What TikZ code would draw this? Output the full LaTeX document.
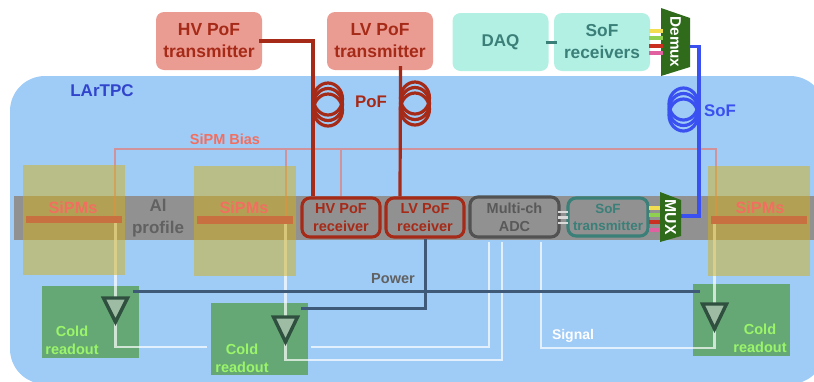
\documentclass[tikz,border=0pt]{standalone}
\usepackage{fontspec}
\setmainfont{Liberation Sans}
\usetikzlibrary{positioning}
\definecolor{tpcblue}{HTML}{9FCBF7}
\definecolor{bargrey}{HTML}{919191}
\definecolor{pofred}{HTML}{A62A18}
\definecolor{txpink}{HTML}{EB9C92}
\definecolor{sipmred}{HTML}{F26F60}
\definecolor{sipmyellow}{HTML}{D3B119}
\definecolor{sipmbar}{HTML}{C8703F}
\definecolor{coldgreen}{HTML}{66A875}
\definecolor{coldtext}{HTML}{9AF56A}
\definecolor{ampdark}{HTML}{2F4F3F}
\definecolor{powerline}{HTML}{3F5A78}
\definecolor{sofblue}{HTML}{3A50F0}
\definecolor{sofmint}{HTML}{B2F0E4}
\definecolor{softeal}{HTML}{3A7F78}
\definecolor{muxgreen}{HTML}{2F6B1B}
\definecolor{chyellow}{HTML}{F2DE50}
\definecolor{chgreen}{HTML}{90D050}
\definecolor{chred}{HTML}{C93020}
\definecolor{chpink}{HTML}{E060A0}
\newcommand{\fsz}[2]{\fontsize{#1}{#2}\selectfont\bfseries}
\tikzset{
  txbox/.style={fill=txpink,rounded corners=8pt,minimum width=106pt,minimum height=58pt,inner sep=0pt,
    text=pofred,align=center,font=\fsz{17.5}{22}},
  mintbox/.style={fill=sofmint,rounded corners=8pt,minimum width=96pt,minimum height=58pt,inner sep=0pt,
    text=softeal,align=center,font=\fsz{17.3}{22}},
  rxbox/.style={draw=pofred,line width=3.1pt,fill=bargrey,rounded corners=8pt,minimum width=78pt,minimum height=39pt,
    inner sep=0pt,text=pofred,align=center,font=\fsz{14.5}{18}},
  sipmbox/.style={fill=sipmyellow,fill opacity=.5,minimum width=102pt,minimum height=110pt,inner sep=0pt},
  sipmstrip/.style={fill=sipmbar,minimum width=96pt,minimum height=7.5pt,inner sep=0pt},
  sipmtext/.style={text=sipmred,font=\fsz{16.3}{18}},
  coldbox/.style={fill=coldgreen,minimum width=97pt,minimum height=72pt,inner sep=0pt},
  coldtextnode/.style={text=coldtext,align=center,font=\fsz{14.5}{18}},
  biasline/.style={draw=sipmred,draw opacity=.6,line width=2.8pt},
  sigline/.style={draw=white,draw opacity=.7,line width=2.6pt},
  powline/.style={draw=powerline,line width=3pt},
  pofline/.style={draw=pofred,line width=3.2pt},
  sofline/.style={draw=sofblue,line width=3.2pt},
  amp/.style={draw=ampdark,line width=3.4pt,fill=black!20,fill opacity=.55,line join=miter},
  lab/.style={font=\fsz{14.5}{18}},
}
\begin{document}
\begin{tikzpicture}[x=1pt,y=-1pt]
\useasboundingbox (0,0) rectangle (814,381);
\clip (0,0) rectangle (814,381);
\pgfmathsetmacro{\rx}{14.5}
\pgfmathsetmacro{\ry}{16}
\fill[tpcblue,rounded corners=35pt] (10,76) rectangle (825,384);
\fill[bargrey] (14,196) rectangle (814,240);
\node[lab,text=sofblue!85!black,font=\fsz{17}{20}] (lartpc) at (102,91) {LArTPC};
\node[txbox] (hvtx) at (209,41) {HV PoF\\transmitter};
\node[txbox] (lvtx) at (380,41) {LV PoF\\transmitter};
\node[mintbox,font=\fsz{17}{20}] (daq) at (500.5,42) {DAQ};
\node[mintbox] (sofrx) at (602,42) {SoF\\receivers};
\node[coldbox] (colda) at (90.5,322) {};
\node[coldbox] (coldb) at (259.5,339) {};
\node[coldbox] (coldc) at (741.5,319.5) {};
\node[coldtextnode] (coldalab) at (72,340) {Cold\\readout};
\node[coldtextnode] (coldblab) at (242,358) {Cold\\readout};
\node[coldtextnode] (coldclab) at (760,338) {Cold\\readout};
\node[rxbox] (hvrx) at (341,217.5) {HV PoF\\receiver};
\node[rxbox] (lvrx) at (425,217.5) {LV PoF\\receiver};
\node[rxbox,draw=black!68,text=black!65,minimum width=89pt,minimum height=40pt] (adc) at (514.5,217) {Multi-ch\\ADC};
\node[rxbox,draw=softeal,text=softeal,minimum width=80pt,minimum height=38pt,font=\fsz{13.4}{17}] (softx) at (608,217) {SoF\\transmitter};
\node[lab,text=black!62,align=center,font=\fsz{17}{22}] (alprofile) at (158,218) {Al\\profile};
\coordinate (ampatop) at (115.5,298);
\coordinate (ampbtop) at (285.5,317);
\coordinate (ampctop) at (714.5,304);
\coordinate (ampatip) at (115.5,322);
\coordinate (ampbtip) at (285.5,342);
\coordinate (ampctip) at (714.5,329);
\coordinate (busl) at (115,149);
\coordinate (busr) at (716,149);
\coordinate (siga) at (207,347);
\coordinate (sigb) at (311,347);
\coordinate (demuxout) at (690,46.5);
\coordinate (muxout) at (681,216);
\draw[biasline] (115,216) |- (busr) -- (716,216)
  (286,149) -- (286,216)
  (hvrx.north) -- (hvrx.north |- busl);
\draw[sigline] (ampatop |- 0,223) -- (ampatop);
\draw[sigline] (ampbtop |- 0,224) -- (ampbtop);
\draw[sigline] (ampctop |- 0,224) -- (ampctop);
\draw[sigline] (ampatip) |- (siga);
\draw[sigline] (sigb) -- (489,347) -- ([shift={(-25.5,3)}]adc.south);
\draw[sigline] (ampbtip) |- (502,360) -- ([shift={(-12.5,3)}]adc.south);
\draw[sigline] (ampctip) |- (541,348) -- ([shift={(26.5,3)}]adc.south);
\node[sipmbox] (sipma) at (74,220) {};
\node[sipmbox] (sipmb) at (245,220.5) {};
\node[sipmbox] (sipmc) at (758.5,220.5) {};
\node[sipmstrip] (stripa) at (74,219.5) {};
\node[sipmstrip] (stripb) at (245,220) {};
\node[sipmstrip] (stripc) at (758.5,220) {};
\node[sipmtext] (sipmalab) at (73,208) {SiPMs};
\node[sipmtext] (sipmblab) at (244,208) {SiPMs};
\node[sipmtext] (sipmclab) at (760,208) {SiPMs};
\foreach \n/\x/\y in {a/115.5/298,b/285.5/317,c/714.5/304}
  \draw[amp] (amp\n top) ++(-12,0) -- ++(24,0) -- (amp\n tip) -- cycle;
\draw[powline] ([shift={(-6,6)}]colda.north east) -- ([shift={(7,8.5)}]coldc.north west);
\draw[powline] ([shift={(-7,6)}]coldb.north east) -| (lvrx.south);
\node[lab,text=black!62] (powerlab) at (393,279) {Power};
\node[lab,text=white,font=\fsz{14}{18}] (signallab) at (573,336) {Signal};
\node[lab,text=sipmred] (biaslab) at (225,139) {SiPM Bias};
\draw[pofline] ([xshift=-3pt]hvtx.east) -| ([xshift=-28pt]hvrx.north);
\draw[pofline] ([shift={(20.5,-4)}]lvtx.south) -- ([xshift=-25pt]lvrx.north);
\foreach \cy in {99,104.5,110}
  \draw[pofline] (328,\cy) ellipse (\rx pt and \ry pt);
\foreach \cy in {98,103.5,109}
  \draw[pofline] (415,\cy) ellipse (\rx pt and \ry pt);
\foreach \cy in {104,109.5,115}
  \draw[sofline] (683.5,\cy) ellipse (\rx pt and \ry pt);
\node[lab,text=pofred,font=\fsz{16.8}{20}] (poflab) at (371,102) {PoF};
\node[lab,text=sofblue,font=\fsz{16.8}{20}] (soflab) at (720,111) {SoF};
\draw[softeal,line width=3pt] ([xshift=-3pt]daq.east) -- ([xshift=3pt]sofrx.west);
\foreach \y in {212,217.5,223}
  \draw[black!15,line width=2.6pt] (558,\y) -- (568,\y);
\draw[sofline] (demuxout) -- (699,46.5) |- (muxout);
\fill[muxgreen] (661,8) -- (690,18) -- (690,67) -- (661,76) -- cycle;
\fill[muxgreen] (660,192) -- (681,200) -- (681,236) -- (660,242) -- cycle;
\node[lab,text=white,rotate=-90,font=\fsz{15.3}{18}] (demux) at (675.5,42) {Demux};
\node[lab,text=white,rotate=-90,font=\fsz{15.8}{18}] (mux) at (670.5,217) {MUX};
\foreach \col/\y in {chyellow/31,chgreen/38,chred/46,chpink/53}
  \draw[\col,line width=3.2pt] (649,\y) -- (663,\y);
\foreach \col/\y in {chyellow/208,chgreen/215,chred/222,chpink/230}
  \draw[\col,line width=3.2pt] (649,\y) -- (660,\y);
\end{tikzpicture}
\end{document}
